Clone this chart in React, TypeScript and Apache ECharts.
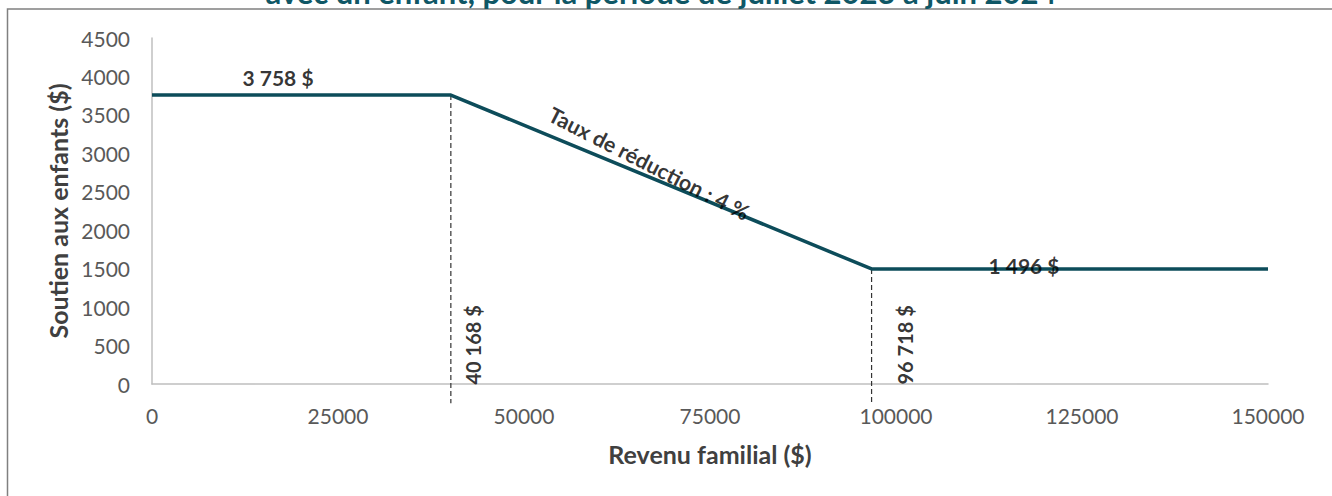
import { useEffect, useRef } from "react";
import * as echarts from "echarts";

const TITLE = "avec un enfant, pour la période de juillet 2023 à juin 2024";
const X_NAME = "Revenu familial ($)";
const Y_NAME = "Soutien aux enfants ($)";

// main curve
const incomes = [0, 40168, 96718, 150000];
const support = [3758, 3758, 1496, 1496];

// axes
const X_MIN = 0;
const X_MAX = 150000;
const X_STEP = 25000;
const Y_MIN = 0;
const Y_MAX = 4500;
const Y_STEP = 500;

// thresholds (dashed verticals)
const thresholdIncomes = [40168, 96718];
const thresholdSupport = [3758, 1496];
const thresholdLabels = ["40 168 $", "96 718 $"];
const thresholdLabelY = [509, 509];
const thresholdLabelDx = [22, 33];
const DASH_BOTTOM = -250;

// plateau labels
const plateauLabels = ["3 758 $", "1 496 $"];
const plateauLabelX = [16935, 117200];
const plateauValues = [3758, 1496];
const plateauLabelDy = [-18, -3];

// slope label
const slopeLabel = "Taux de réduction : 4 %";
const slopeLabelX = 66800;
const SLOPE_LABEL_ANGLE = -27;

const FONT = "Lato";

function interp(x: number) {
  for (let i = 0; i < incomes.length - 1; i++) {
    if (x >= incomes[i] && x <= incomes[i + 1]) {
      const t = (x - incomes[i]) / (incomes[i + 1] - incomes[i]);
      return support[i] + t * (support[i + 1] - support[i]);
    }
  }
  return support[support.length - 1];
}

export default function App() {
  const ref = useRef<HTMLDivElement>(null);
  useEffect(() => {
    if (!ref.current) return;
    const chart = echarts.init(ref.current, undefined, { renderer: "svg" });

    const labelData = [
      ...plateauLabels.map((t, i) => ({
        value: [plateauLabelX[i], plateauValues[i]],
        label: {
          show: true,
          position: "inside",
          formatter: t,
          offset: [0, plateauLabelDy[i]],
          fontFamily: FONT,
          fontWeight: "bold",
          fontSize: 21,
          color: "#000",
        },
      })),
      ...thresholdLabels.map((t, i) => ({
        value: [thresholdIncomes[i], thresholdLabelY[i]],
        label: {
          show: true,
          position: "inside",
          formatter: t,
          rotate: 90,
          // offset is applied in the rotated frame: local y -> screen right
          offset: [0, thresholdLabelDx[i]],
          fontFamily: FONT,
          fontWeight: "bold",
          fontSize: 20,
          color: "#000",
        },
      })),
      {
        value: [slopeLabelX, interp(slopeLabelX)],
        label: {
          show: true,
          position: "inside",
          formatter: slopeLabel,
          rotate: SLOPE_LABEL_ANGLE,
          offset: [-6, -12],
          fontFamily: FONT,
          fontWeight: "bold",
          fontSize: 21.5,
          color: "#000",
        },
      },
    ];

    const option: any = {
      animation: false,
      backgroundColor: "#fff",
      graphic: [
        {
          type: "rect",
          shape: { x: 7.5, y: 9, width: 1500, height: 800 },
          style: { fill: "none", stroke: "#808080", lineWidth: 1.5 },
          silent: true,
          z: -10,
        },
        {
          type: "text",
          x: 661,
          y: -8,
          style: {
            text: TITLE,
            fontFamily: FONT,
            fontWeight: "bold",
            fontSize: 31,
            fill: "#0f5766",
            textAlign: "center",
            textVerticalAlign: "middle",
          },
          silent: true,
        },
      ],
      grid: { left: 152, right: 64, top: 38, bottom: 112, containLabel: false },
      xAxis: {
        type: "value",
        min: X_MIN,
        max: X_MAX,
        interval: X_STEP,
        name: X_NAME,
        nameLocation: "middle",
        nameGap: 57,
        nameTextStyle: { fontFamily: FONT, fontWeight: "bold", fontSize: 25, color: "#404040" },
        axisLine: { show: true, lineStyle: { color: "#bfbfbf", width: 1.5 } },
        axisTick: { show: false },
        splitLine: { show: false },
        axisLabel: {
          fontFamily: FONT,
          fontSize: 21,
          color: "#595959",
          margin: 21,
          formatter: (v: number) => String(v),
        },
      },
      yAxis: {
        type: "value",
        min: Y_MIN,
        max: Y_MAX,
        interval: Y_STEP,
        name: Y_NAME,
        nameLocation: "middle",
        nameGap: 81,
        nameTextStyle: { fontFamily: FONT, fontWeight: "bold", fontSize: 25, color: "#404040" },
        axisLine: { show: true, lineStyle: { color: "#bfbfbf", width: 1.5 } },
        axisTick: { show: false },
        splitLine: { show: false },
        axisLabel: {
          fontFamily: FONT,
          fontSize: 21,
          color: "#595959",
          margin: 22,
          formatter: (v: number) => String(v),
        },
      },
      series: [
        ...thresholdIncomes.map((x, i) => ({
          type: "line",
          symbol: "none",
          clip: false,
          silent: true,
          z: 1,
          data: [
            [x, thresholdSupport[i]],
            [x, DASH_BOTTOM],
          ],
          lineStyle: { color: "#333", width: 1.2, type: [5, 3] },
        })),
        {
          type: "line",
          symbol: "none",
          silent: true,
          z: 3,
          data: incomes.map((x, i) => [x, support[i]]),
          lineStyle: { color: "#0d4c5a", width: 3.5 },
        },
        {
          type: "scatter",
          symbolSize: 0,
          silent: true,
          z: 5,
          data: labelData,
        },
      ],
    };
    chart.setOption(option);
    return () => chart.dispose();
  }, []);
  return (
    <div
      ref={ref}
      style={{ position: "absolute", left: 0, top: 0, width: 1332, height: 496 }}
    />
  );
}
